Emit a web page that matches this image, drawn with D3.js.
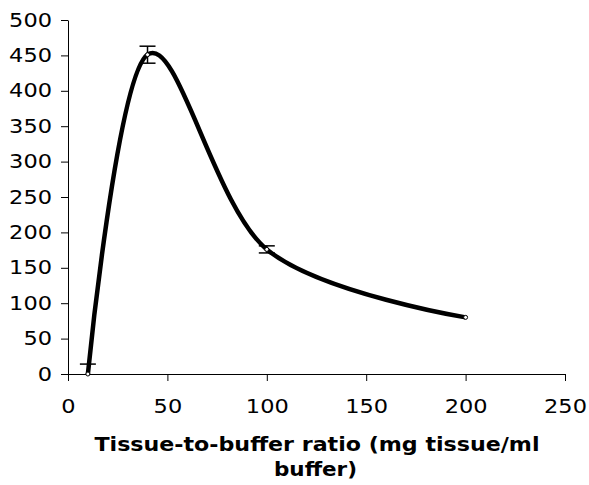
<!DOCTYPE html>
<html>
<head>
<meta charset="utf-8">
<script src="https://cdn.jsdelivr.net/npm/d3@7"></script>
<style>
  body { margin: 0; background: #fff; }
  svg { display: block; }
  text { font-family: "DejaVu Sans", Verdana, sans-serif; fill: #000; }
</style>
</head>
<body>
<svg id="chart"></svg>
<script>
// measured values
var ratios = [10, 40, 100, 200];
var activity = [0, 451, 176, 80];
var errors = [14, 12, 5, 0];

var xTicks = [0, 50, 100, 150, 200, 250];
var yTicks = [0, 50, 100, 150, 200, 250, 300, 350, 400, 450, 500];

var xTitle1 = "Tissue-to-buffer ratio (mg tissue/ml";
var xTitle2 = "buffer)";

var width = 589,
    height = 485;

var svg = d3.select("#chart")
    .attr("width", width)
    .attr("height", height);

var x = d3.scaleLinear().domain([0, 250]).range([68, 565]);
var y = d3.scaleLinear().domain([0, 500]).range([374, 20]);

var points = ratios.map(function(r, i) {
    return { x: r, y: activity[i], err: errors[i] };
});

// axes
var xAxis = svg.append("g")
    .attr("transform", "translate(0," + y(0) + ")")
    .call(d3.axisBottom(x).tickValues(xTicks).tickSize(7).tickPadding(19).tickSizeOuter(0));

var yAxis = svg.append("g")
    .attr("transform", "translate(" + x(0) + ",0)")
    .call(d3.axisLeft(y).tickValues(yTicks).tickSize(7).tickPadding(9).tickSizeOuter(0));

[xAxis, yAxis].forEach(function(a) {
    a.select(".domain").attr("stroke", "#000").attr("stroke-width", 1);
    a.selectAll(".tick line").attr("stroke", "#000").attr("stroke-width", 1);
    // the original font runs a bit wide, stretch the labels to match
    a.selectAll(".tick text")
        .attr("font-family", "DejaVu Sans, Verdana, sans-serif")
        .attr("font-size", 19)
        .attr("fill", "#000")
        .attr("lengthAdjust", "spacingAndGlyphs")
        .attr("textLength", function(d) { return String(d).length * 14.3; });
});

// clip to the plot area
svg.append("clipPath")
    .attr("id", "plot-clip")
    .append("rect")
    .attr("x", x(0))
    .attr("y", y(500))
    .attr("width", x(250) - x(0))
    .attr("height", y(0) - y(500));

// error bars
var eb = svg.append("g")
    .attr("clip-path", "url(#plot-clip)")
    .selectAll("g")
    .data(points.filter(function(d) { return d.err > 0; }))
    .enter().append("g");

eb.append("line")
    .attr("x1", function(d) { return x(d.x); })
    .attr("x2", function(d) { return x(d.x); })
    .attr("y1", function(d) { return y(d.y - d.err); })
    .attr("y2", function(d) { return y(d.y + d.err); })
    .attr("stroke", "#000")
    .attr("stroke-width", 1.5);

[-1, 1].forEach(function(s) {
    eb.append("line")
        .attr("x1", function(d) { return x(d.x) - 8; })
        .attr("x2", function(d) { return x(d.x) + 8; })
        .attr("y1", function(d) { return y(d.y + s * d.err); })
        .attr("y2", function(d) { return y(d.y + s * d.err); })
        .attr("stroke", "#000")
        .attr("stroke-width", 1.5);
});

// smoothed line
var line = d3.line()
    .x(function(d) { return x(d.x); })
    .y(function(d) { return y(d.y); })
    .curve(d3.curveCardinal.tension(0));

svg.append("path")
    .datum(points)
    .attr("d", line)
    .attr("fill", "none")
    .attr("stroke", "#000")
    .attr("stroke-width", 4.5)
    .attr("stroke-linejoin", "round");

// markers
svg.append("g")
    .selectAll("circle")
    .data(points)
    .enter().append("circle")
    .attr("cx", function(d) { return x(d.x); })
    .attr("cy", function(d) { return y(d.y); })
    .attr("r", 2)
    .attr("fill", "#fff")
    .attr("stroke", "#000")
    .attr("stroke-width", 1);

// axis title
svg.append("text")
    .attr("x", 317)
    .attr("y", 451)
    .attr("text-anchor", "middle")
    .attr("font-size", 20)
    .attr("font-weight", "bold")
    .attr("lengthAdjust", "spacingAndGlyphs")
    .attr("textLength", 445)
    .text(xTitle1);

svg.append("text")
    .attr("x", 315.5)
    .attr("y", 476)
    .attr("text-anchor", "middle")
    .attr("font-size", 20)
    .attr("font-weight", "bold")
    .attr("lengthAdjust", "spacingAndGlyphs")
    .attr("textLength", 83)
    .text(xTitle2);
</script>
</body>
</html>
